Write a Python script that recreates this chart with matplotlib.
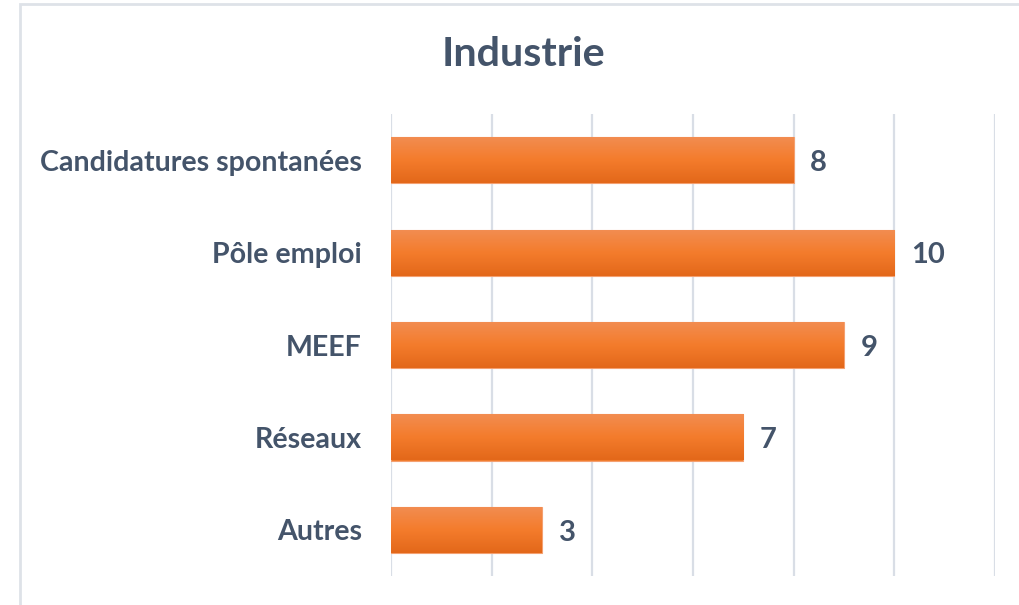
import numpy as np
import matplotlib.pyplot as plt
from matplotlib.colors import LinearSegmentedColormap
from matplotlib.patches import Rectangle

categories = ["Candidatures spontanées", "Pôle emploi", "MEEF", "Réseaux", "Autres"]
values = [8, 10, 9, 7, 3]
title = "Industrie"

TEXT = "#44546A"
GRID = "#D9DEE6"
plt.rcParams["font.family"] = ["Lato", "DejaVu Sans"]

fig = plt.figure(figsize=(10.2, 6.05), dpi=100)
ax = fig.add_axes([391 / 1020, 29 / 605, 604 / 1020, 462 / 605])

# chart frame (cut off at right/bottom like the screenshot)
fig.patches.append(Rectangle((20 / 1020, -0.05), 1.1, (605 - 4) / 605 + 0.05,
                             transform=fig.transFigure, fill=False,
                             edgecolor="#DEE2E8", linewidth=2))

y = np.arange(len(categories))
bars = ax.barh(y, values, height=0.5, color="#F07B2C", edgecolor="#F4A070", linewidth=0.8, zorder=2)

# vertical gradient inside each bar
cmap = LinearSegmentedColormap.from_list("bar", ["#F28D52", "#F47C2C", "#E3681A"])
grad = np.linspace(0, 1, 64).reshape(-1, 1)
for b in bars:
    x0, y0 = b.get_x(), b.get_y()
    im = ax.imshow(grad, cmap=cmap, aspect="auto", zorder=3,
                   extent=(x0, x0 + b.get_width(), y0 + b.get_height(), y0))
    im.set_clip_path(b)

for yi, v in zip(y, values):
    ax.text(v + 0.33, yi + 0.03, str(v), va="center", ha="left", fontsize=21,
            fontweight="bold", color=TEXT)

ax.set_xlim(0, 12)
ax.set_ylim(len(categories) - 0.5, -0.5)
ax.set_xticks(np.arange(0, 13, 2))
ax.set_xticklabels([])
ax.set_yticks(y)
ax.set_yticklabels(categories, fontsize=20.6, fontweight="bold", color=TEXT)
ax.tick_params(axis="both", length=0)
ax.tick_params(axis="y", pad=21)
ax.grid(axis="x", color=GRID, linewidth=1.6, zorder=0)
ax.set_axisbelow(True)
for s in ax.spines.values():
    s.set_visible(False)

fig.text(523 / 1020, 1 - 55 / 605, title, ha="center", va="center",
         fontsize=29.7, fontweight="bold", color=TEXT)

fig.savefig("out.png", dpi=100)
